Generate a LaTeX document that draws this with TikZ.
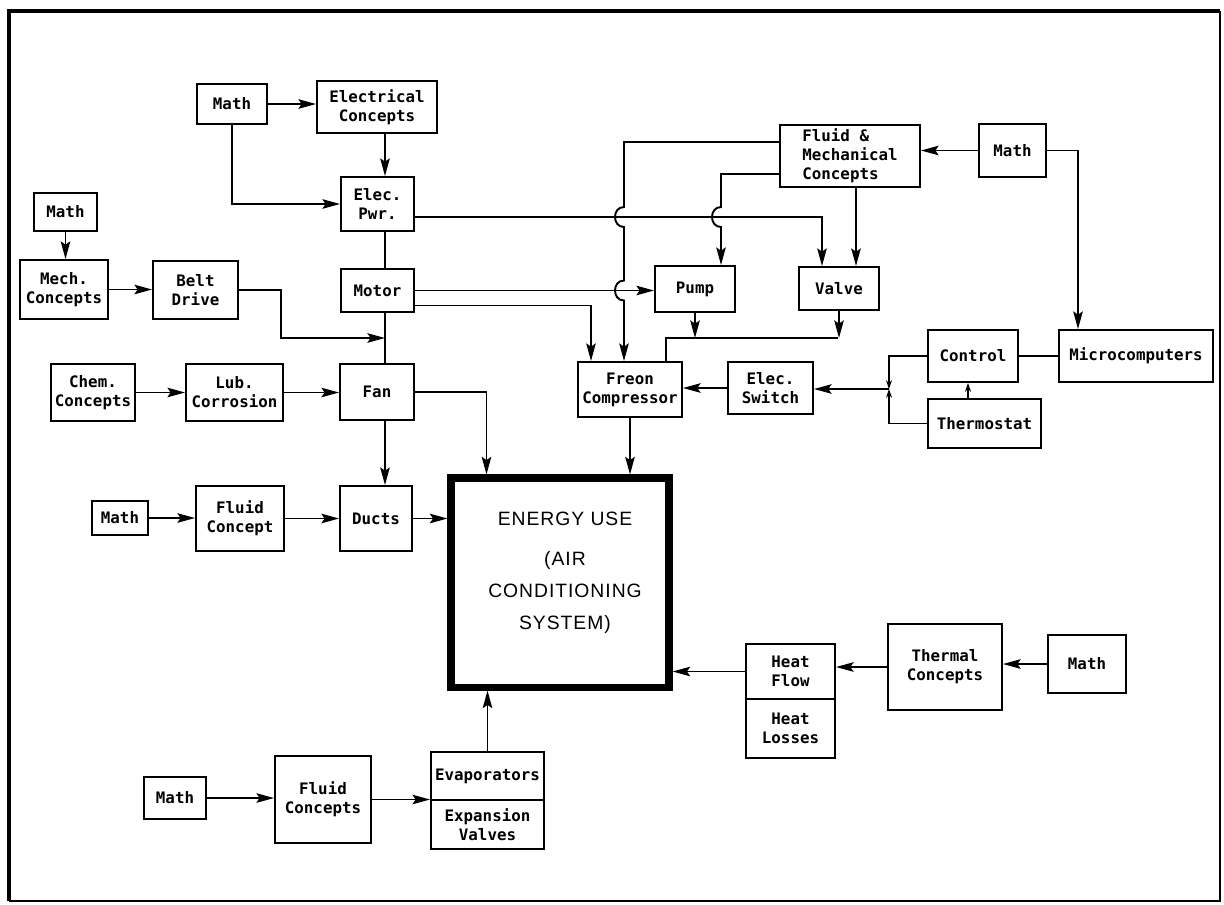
\documentclass[tikz,border=0pt]{standalone}
\usepackage{fontspec}
\setmonofont{DejaVu Sans Mono}
\newfontfamily\sysfont[LetterSpace=5]{Liberation Sans}
\usetikzlibrary{arrows.meta,calc}

\begin{document}
\begin{tikzpicture}[
    x=0.02cm, y=-0.02cm,
    >={Stealth[length=10pt,width=5.4pt,inset=1.8pt]},
    blk/.style={draw, line width=1.1pt, align=center, inner sep=1pt,
        font=\ttfamily\bfseries\fontsize{9}{10.8}\selectfont},
    sz/.style 2 args={minimum width=#1*0.02cm, minimum height=#2*0.02cm},
    lnk/.style={line width=1.1pt},
    sarr/.style={line width=1pt, -{Stealth[length=5pt,width=3.4pt]}}
]
\useasboundingbox (0,0) rectangle (1224,904);

% Frame
\draw[line width=2.6pt] (9,901) -- (9,11) -- (1220,11);
\draw[line width=0.8pt] (1220,11) -- (1220,901) -- (9,901);

% Jump-over columns and bus points
\coordinate (jA) at (624,0);
\coordinate (jB) at (721,0);
\coordinate (spine) at (385,0);
\coordinate (beltin) at (385,338);
\coordinate (busL) at (666,338);
\coordinate (busR) at (838,338);
\coordinate (jn) at (889,389);

% === Left column ===
\node[blk, sz={70}{40}]  (mathA)  at (232,104)   {Math};
\node[blk, sz={120}{52}] (elecC)  at (377,107)   {Electrical\\Concepts};
\node[blk, sz={73}{54}]  (elecP)  at (377.5,204) {Elec.\\Pwr.};
\node[blk, sz={73}{43}]  (motor)  at (377.5,290.5) {Motor};
\node[blk, sz={63}{38}]  (mathB)  at (65.5,212)  {Math};
\node[blk, sz={88}{59}]  (mech)   at (64,289.5)  {Mech.\\Concepts};
\node[blk, sz={85}{58}]  (belt)   at (195.5,290) {Belt\\Drive};
\node[blk, sz={84}{57}]  (chem)   at (93,392.5)  {Chem.\\Concepts};
\node[blk, sz={97}{57}]  (lub)    at (234.5,392.5) {Lub.\\Corrosion};
\node[blk, sz={74}{56}]  (fan)    at (377,392)   {Fan};
\node[blk, sz={56}{34}]  (mathC)  at (120,518)   {Math};
\node[blk, sz={88}{65}]  (fluidA) at (240,518.5) {Fluid\\Concept};
\node[blk, sz={72}{65}]  (ducts)  at (376,518.5) {Ducts};

% === Centre block ===
\node[draw, line width=4pt, minimum width=218*0.02cm, minimum height=209*0.02cm]
    (energy) at (560,582.5) {};
\node[align=center, font=\sysfont\fontsize{11}{18}\selectfont]
    (energytxt) at ($(energy)+(5,-10)$)
    {ENERGY USE\\[5pt](AIR\\CONDITIONING\\SYSTEM)};

% === Upper right ===
\node[blk, sz={140}{62}, align=left] (fluidM) at (850,156) {Fluid \&\\Mechanical\\Concepts};
\node[blk, sz={67}{53}]  (mathD)   at (1012.5,150.5) {Math};
\node[blk, sz={80}{46}]  (pump)    at (695,289)    {Pump};
\node[blk, sz={80}{43}]  (valve)   at (839,288.5)  {Valve};
\node[blk, sz={104}{55}] (freon)   at (630,389.5)  {Freon\\Compressor};
\node[blk, sz={85}{52}]  (eswitch) at (770.5,388)  {Elec.\\Switch};
\node[blk, sz={90}{52}]  (control) at (973,356)    {Control};
\node[blk, sz={154}{52}] (micro)   at (1136,356)   {Microcomputers};
\node[blk, sz={113}{49}] (thermo)  at (984.5,423.5) {Thermostat};

% === Lower right ===
\node[blk, sz={89}{55}]  (heatF)   at (790.5,671.5) {Heat\\Flow};
\node[blk, sz={89}{59}]  (heatL)   at (790.5,728.5) {Heat\\Losses};
\node[blk, sz={114}{86}] (thermal) at (945,667)    {Thermal\\Concepts};
\node[blk, sz={78}{58}]  (mathE)   at (1087,664)   {Math};

% === Bottom ===
\node[blk, sz={62}{42}]  (mathF)  at (175,798)   {Math};
\node[blk, sz={96}{87}]  (fluidB) at (323,799.5) {Fluid\\Concepts};
\node[blk, sz={113}{48}] (evap)   at (487.5,776) {Evaporators};
\node[blk, sz={113}{49}] (expv)   at (487.5,824.5) {Expansion\\Valves};

% === Connectors, left side ===
\draw[lnk, ->] (mathA.east) -- (mathA.east -| elecC.west);
\draw[lnk, ->] (mathA.south) |- (elecP.west);
\draw[lnk, ->] (elecC.south -| spine) -- (elecP.north -| spine);
\draw[lnk] (elecP.south -| spine) -- (motor.north -| spine);
\draw[lnk] (motor.south -| spine) -- (fan.north -| spine);
\draw[lnk, ->] (mathB.south) -- (mathB.south |- mech.north);
\draw[lnk, ->] (mech.east) -- (mech.east -| belt.west);
\draw[lnk, ->] (belt.east) -- ++(42,0) |- (beltin);
\draw[lnk, ->] (chem.east) -- (chem.east -| lub.west);
\draw[lnk, ->] (lub.east) -- (lub.east -| fan.west);
\draw[lnk, ->] (fan.south -| spine) -- (ducts.north -| spine);
\draw[lnk, ->] (fan.east) -| ($(energy.north west)+(39,0)$);
\draw[lnk, ->] (mathC.east) -- (mathC.east -| fluidA.west);
\draw[lnk, ->] (fluidA.east) -- (fluidA.east -| ducts.west);
\draw[lnk, ->] (ducts.east) -- (ducts.east -| energy.west);

% === Connectors, upper right (with jumps) ===
\draw[lnk, ->] ($(elecP.east)+(0,13)$) -| ($(valve.north)+(-17,0)$);
\draw[lnk, ->] ($(fluidM.west)+(0,-14)$) -| (624,207)
    .. controls (612,207) and (612,227) .. (624,227) -- (624,280.5)
    .. controls (612,280.5) and (612,300.5) .. (624,300.5) -- (jA |- freon.north);
\draw[lnk, ->] ($(fluidM.west)+(0,18)$) -| (721,207)
    .. controls (709,207) and (709,227) .. (721,227) -- (jB |- pump.north);
\draw[lnk, ->] ($(fluidM.south)+(6,0)$) -- ($(valve.north)+(17,0)$);
\draw[lnk, ->] (motor.east) -- (motor.east -| pump.west);
\draw[lnk, ->] ($(motor.east)+(0,15)$) -| ($(freon.north)+(-39,0)$);
\draw[lnk, ->] (pump.south) -- (pump.south |- busL);
\draw[lnk, ->] (valve.south) -- (valve.south |- busR);
\draw[lnk] (busR) -- (busL) -- (busL |- freon.north);
\draw[lnk, ->] (freon.south) -- (freon.south |- energy.north);
\draw[lnk, ->] (eswitch.west) -- (eswitch.west -| freon.east);
\draw[lnk, ->] (jn) -- (jn -| eswitch.east);
\draw[sarr] (control.west) -| (jn);
\draw[sarr] (thermo.west) -| (jn);
\draw[sarr] (thermo.north -| 968,0) -- (control.south -| 968,0);
\draw[lnk] (control.east) -- (micro.west);
\draw[lnk, ->] (mathD.west) -- (mathD.west -| fluidM.east);
\draw[lnk, ->] (mathD.east) -| ($(micro.north)+(-58,0)$);

% === Connectors, lower right and bottom ===
\draw[lnk, ->] (mathE.west) -- (mathE.west -| thermal.east);
\draw[lnk, ->] (thermal.west) -- (thermal.west -| heatF.east);
\draw[lnk, ->] (heatF.west) -- (heatF.west -| energy.east);
\draw[lnk, ->] (mathF.east) -- (mathF.east -| fluidB.west);
\draw[lnk, ->] (fluidB.east) -- (fluidB.east -| evap.west);
\draw[lnk, ->] (evap.north) -- (evap.north |- energy.south);

\end{tikzpicture}
\end{document}
